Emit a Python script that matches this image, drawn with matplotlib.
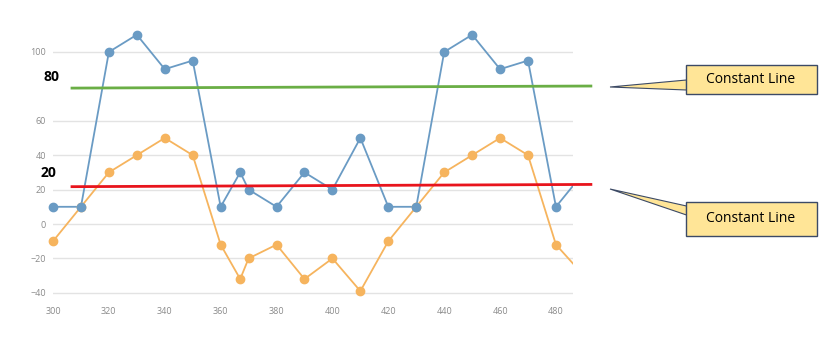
import numpy as np
import matplotlib
matplotlib.use("Agg")
import matplotlib.pyplot as plt
from matplotlib.patches import Polygon, Rectangle

# dane
x_vals = [300, 310, 320, 330, 340, 350, 360, 367, 370, 380, 390, 400, 410,
          420, 430, 440, 450, 460, 470, 480, 490]
blue_vals = [10, 10, 100, 110, 90, 95, 10, 30, 20, 10, 30, 20, 50,
             10, 10, 100, 110, 90, 95, 10, 30]
orange_vals = [-10, 10, 30, 40, 50, 40, -12, -32, -20, -12, -32, -20, -39,
               -10, 10, 30, 40, 50, 40, -12, -30]

x_ticks = [300, 320, 340, 360, 380, 400, 420, 440, 460, 480]
y_ticks = [-40, -20, 0, 20, 40, 60, 100]

green_line = [79, 80.2]
red_line = [21.7, 23]
line_x = [306.8, 492.5]
const_labels = ["80", "20"]
callout_text = "Constant Line"

W, H = 833, 355
fig = plt.figure(figsize=(W / 100, H / 100), dpi=100)
ax = fig.add_axes([53 / W, 1 - 299.7 / H, 520 / W, (299.7 - 21) / H])

x = np.array(x_vals)
xmax = 486.1
inside = x <= xmax

blue = "#6A9BC4"
orange = "#F6B45E"
for vals, c in [(orange_vals, orange), (blue_vals, blue)]:
    v = np.array(vals)
    ax.plot(x, v, color=c, lw=1.3, zorder=3)
    ax.plot(x[inside], v[inside], "o", color=c, ms=6, zorder=4, clip_on=False)

ax.plot(line_x, green_line, color="#6AAE45", lw=2, zorder=5, clip_on=False)
ax.plot(line_x, red_line, color="#E8141C", lw=2, zorder=5, clip_on=False)

ax.set_xlim(300, xmax)
ax.set_ylim(-44, 118)
ax.set_xticks(x_ticks)
ax.set_yticks(y_ticks)
ax.grid(axis="y", color="#E3E3E3", lw=1)
ax.set_axisbelow(True)
for s in ax.spines.values():
    s.set_visible(False)
ax.tick_params(length=0, labelsize=6.5, colors="#8A8A8A", pad=5)
for lab in ax.get_xticklabels() + ax.get_yticklabels():
    lab.set_fontfamily("Open Sans")

# pogrubione etykiety linii stałych
fig.text(51 / W, 1 - 77 / H, const_labels[0], ha="center", va="center",
         fontsize=10, fontweight="bold", family="Open Sans")
fig.text(48 / W, 1 - 173 / H, const_labels[1], ha="center", va="center",
         fontsize=10, fontweight="bold", family="Open Sans")


def px(pts):
    return [(a / W, 1 - b / H) for a, b in pts]


# dymki
for (bx, by0, by1), (tip, w0, w1) in [((685.5, 64.5, 94), ((610, 87), 80, 90)),
                                        ((685.5, 202, 236), ((610, 189), 206, 215))]:
    wedge = Polygon(px([tip, (bx + 1, w0), (bx + 1, w1)]), closed=True,
                    transform=fig.transFigure, facecolor="#FFE597",
                    edgecolor="#3C4A66", lw=0.8, zorder=10)
    fig.add_artist(wedge)
    box = Rectangle((bx / W, 1 - by1 / H), 131 / W, (by1 - by0) / H,
                    transform=fig.transFigure, facecolor="#FFE597",
                    edgecolor="#3C4A66", lw=1, zorder=11)
    fig.add_artist(box)
    fig.text((bx + 65.5) / W, 1 - (by0 + by1) / 2 / H, callout_text,
             ha="center", va="center", fontsize=10, family="Open Sans",
             zorder=12)

fig.savefig("out.png", dpi=100)
